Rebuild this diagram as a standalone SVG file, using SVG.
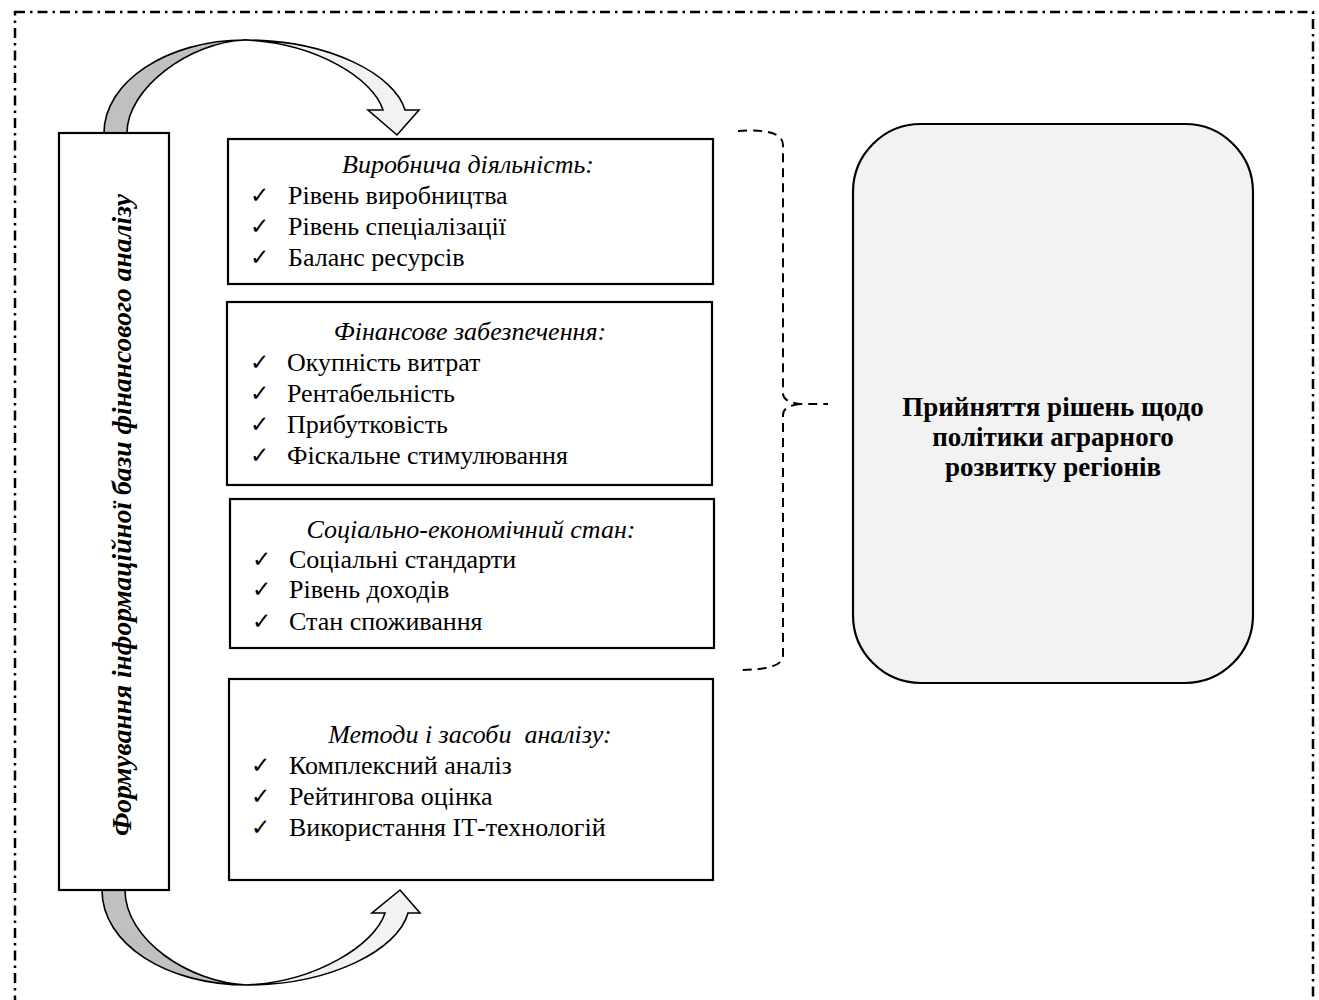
<svg xmlns="http://www.w3.org/2000/svg" width="1319" height="1000" viewBox="0 0 1319 1000">
<style>
  .box{fill:#fff;stroke:#000;stroke-width:2.2}
  .t{font-family:"Liberation Serif","Times New Roman",serif;font-size:26px;fill:#000}
  .ti{font-family:"Liberation Serif","Times New Roman",serif;font-size:26px;font-style:italic;fill:#000}
  .ck{font-family:"DejaVu Sans",sans-serif;font-size:23px;fill:#000}
  .big{font-family:"Liberation Serif","Times New Roman",serif;font-size:27px;font-weight:bold;fill:#000}
  .vert{font-family:"Liberation Serif","Times New Roman",serif;font-size:27.5px;font-weight:bold;font-style:italic;fill:#000}
  .dark{fill:#c0c0c0;stroke:#000;stroke-width:1.6;stroke-linejoin:round}
  .light{fill:#f2f2f2;stroke:#000;stroke-width:1.6;stroke-linejoin:miter}
</style>
<rect x="15" y="12" width="1298" height="1010" fill="none" stroke="#000" stroke-width="2.5" stroke-dasharray="10 5 2.5 5"/>

<g id="connectors">
  <g id="arrow-top">
    <path class="dark" d="M104,133 C104,82 167,40 245,40 C190,42 127,88 127,133 Z"/>
    <path class="light" d="M245,40 C330,40 395,75 405,110 L419,110 L397,135 L368,110 L383,110 C373,78 315,43 245,40 Z"/>
  </g>
  <g id="arrow-bottom">
    <path class="dark" d="M102,890 C102,945 168,985 247,985 C190,983 125,940 125,890 Z"/>
    <path class="light" d="M247,985 C330,985 398,950 408,913 L420,913 L400,890 L372,913 L385,913 C375,945 315,982 247,985 Z"/>
  </g>
  <path id="brace" d="M738,131 Q783,128 783,145 L783,393 Q783,402 800,404 L828,404 M800,404 Q783,406 783,415 L783,656 Q783,670 738,670" fill="none" stroke="#000" stroke-width="2" stroke-dasharray="9 6"/>
</g>

<g id="node-left">
  <rect class="box" x="59" y="133" width="110" height="757"/>
  <text class="vert" transform="translate(131,515) rotate(-90)" text-anchor="middle">Формування інформаційної бази фінансового аналізу</text>
</g>

<g id="node-production">
  <rect class="box" x="228" y="139" width="485" height="145"/>
  <text class="ti" x="468" y="173" text-anchor="middle">Виробнича діяльність:</text>
  <text class="ck" x="250" y="203">✓</text><text class="t" x="288" y="204">Рівень виробництва</text>
  <text class="ck" x="250" y="234">✓</text><text class="t" x="288" y="235">Рівень спеціалізації</text>
  <text class="ck" x="250" y="265">✓</text><text class="t" x="288" y="266">Баланс ресурсів</text>
</g>

<g id="node-finance">
  <rect class="box" x="227" y="302" width="485" height="183"/>
  <text class="ti" x="470" y="340" text-anchor="middle">Фінансове забезпечення:</text>
  <text class="ck" x="250" y="370">✓</text><text class="t" x="287" y="371">Окупність витрат</text>
  <text class="ck" x="250" y="401">✓</text><text class="t" x="287" y="402">Рентабельність</text>
  <text class="ck" x="250" y="432">✓</text><text class="t" x="287" y="433">Прибутковість</text>
  <text class="ck" x="250" y="463">✓</text><text class="t" x="287" y="464">Фіскальне стимулювання</text>
</g>

<g id="node-social">
  <rect class="box" x="230" y="499" width="484" height="149"/>
  <text class="ti" x="471" y="538" text-anchor="middle">Соціально-економічний стан:</text>
  <text class="ck" x="252" y="567">✓</text><text class="t" x="289" y="568">Соціальні стандарти</text>
  <text class="ck" x="252" y="597">✓</text><text class="t" x="289" y="598">Рівень доходів</text>
  <text class="ck" x="252" y="629">✓</text><text class="t" x="289" y="630">Стан споживання</text>
</g>

<g id="node-methods">
  <rect class="box" x="229" y="679" width="484" height="201"/>
  <text class="ti" x="470" y="743" text-anchor="middle" xml:space="preserve">Методи і засоби  аналізу:</text>
  <text class="ck" x="251" y="773">✓</text><text class="t" x="289" y="774">Комплексний аналіз</text>
  <text class="ck" x="251" y="804">✓</text><text class="t" x="289" y="805">Рейтингова оцінка</text>
  <text class="ck" x="251" y="835">✓</text><text class="t" x="289" y="836">Використання ІТ-технологій</text>
</g>

<g id="node-decision">
  <rect x="853" y="124" width="400" height="559" rx="68" ry="68" fill="#f2f2f2" stroke="#000" stroke-width="2.2"/>
  <text class="big" x="1053" y="416" text-anchor="middle">Прийняття рішень щодо</text>
  <text class="big" x="1053" y="446" text-anchor="middle">політики аграрного</text>
  <text class="big" x="1053" y="476" text-anchor="middle">розвитку регіонів</text>
</g>
</svg>
